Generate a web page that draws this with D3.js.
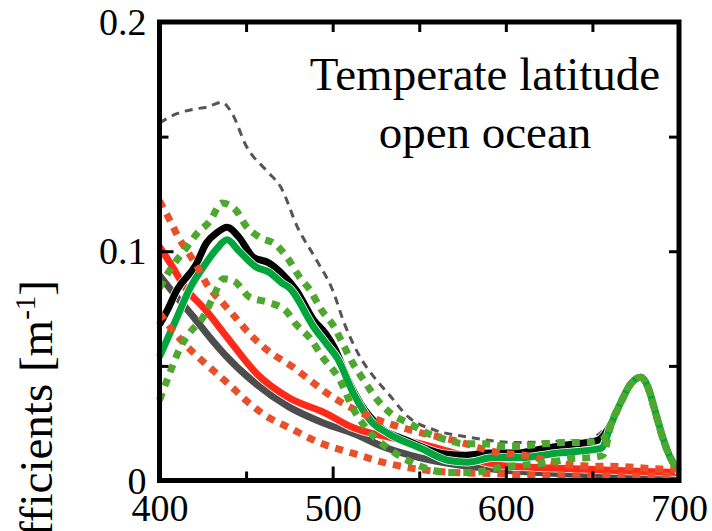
<!DOCTYPE html>
<html>
<head>
<meta charset="utf-8">
<script src="https://cdn.jsdelivr.net/npm/d3@7"></script>
<style>
  body { margin: 0; background: #fff; }
  svg { display: block; }
</style>
</head>
<body>
<script>
const width = 712;
const height = 531;
const margin = { top: 22, right: 33, bottom: 50.5, left: 159.5 };
const serif = '"Liberation Serif", "Times New Roman", Times, serif';

// wavelength [nm] and absorption [1/m] read per curve
const wlTotal = [400, 410, 420, 428, 436, 442, 450, 462, 470, 480, 490, 500, 507, 515, 524, 532, 544, 559, 578, 605, 630, 645, 655, 662, 668, 673, 678, 683, 688, 693, 700];
const aTotal  = [0.156, 0.160, 0.162, 0.163, 0.165, 0.160, 0.146, 0.135, 0.128, 0.110, 0.097, 0.083, 0.068, 0.055, 0.045, 0.038, 0.0275, 0.022, 0.019, 0.0166, 0.017, 0.0175, 0.021, 0.027, 0.036, 0.043, 0.046, 0.040, 0.027, 0.015, 0.004];

const wlBlack = [400, 405, 410, 421, 427, 433, 439, 446, 454, 463, 471, 479, 489, 496, 501, 509, 516, 528, 543, 563, 576, 590, 607, 615, 635, 653, 661, 667, 672, 678, 682, 686, 691, 695, 700];
const aBlack  = [0.068, 0.075, 0.083, 0.094, 0.1035, 0.108, 0.1105, 0.106, 0.0975, 0.095, 0.090, 0.083, 0.070, 0.064, 0.058, 0.0437, 0.0336, 0.023, 0.0175, 0.0118, 0.011, 0.012, 0.012, 0.013, 0.0155, 0.0175, 0.025, 0.035, 0.042, 0.045, 0.041, 0.031, 0.018, 0.010, 0.004];

const wlGreen = [400, 410, 417, 427, 433, 439, 446, 456, 463, 471, 475, 489, 496, 503, 512, 522, 532, 551, 567, 578, 593, 609, 628, 655, 661, 667, 672, 678, 682, 686, 691, 695, 700];
const aGreen  = [0.054, 0.071, 0.083, 0.095, 0.101, 0.105, 0.100, 0.093, 0.091, 0.086, 0.084, 0.067, 0.060, 0.053, 0.038, 0.026, 0.0205, 0.014, 0.0087, 0.008, 0.010, 0.010, 0.0118, 0.014, 0.025, 0.035, 0.042, 0.045, 0.041, 0.031, 0.018, 0.010, 0.004];

const wlRed = [400, 406, 415, 427, 439, 456, 475, 495, 512, 532, 551, 570, 597, 625, 650, 675, 700];
const aRed  = [0.102, 0.095, 0.084, 0.074, 0.0625, 0.0467, 0.036, 0.0297, 0.023, 0.019, 0.016, 0.012, 0.0066, 0.0055, 0.0048, 0.004, 0.0035];

const wlGrey = [400, 410, 420, 429, 437, 456, 475, 495, 512, 530, 550, 575, 600, 650, 700];
const aGrey  = [0.0895, 0.080, 0.071, 0.0625, 0.0555, 0.042, 0.032, 0.025, 0.0205, 0.0145, 0.010, 0.0065, 0.0045, 0.0025, 0.0015];

const wlRedHi = [400, 406, 411, 417, 423, 427, 437, 444, 452, 462, 477, 487, 495, 503, 522, 545, 570, 597, 611, 624, 641, 668, 691, 700];
const aRedHi  = [0.122, 0.1135, 0.106, 0.099, 0.0917, 0.086, 0.077, 0.071, 0.064, 0.057, 0.0495, 0.0437, 0.039, 0.035, 0.0277, 0.022, 0.0175, 0.012, 0.011, 0.0087, 0.0065, 0.006, 0.005, 0.005];

const wlRedLo = [400, 406, 414, 425, 431, 440, 452, 463, 475, 492, 512, 532, 547, 570, 593, 620, 660, 700];
const aRedLo  = [0.073, 0.067, 0.060, 0.052, 0.048, 0.042, 0.0336, 0.0275, 0.023, 0.0166, 0.0118, 0.0074, 0.0052, 0.0035, 0.003, 0.0022, 0.002, 0.002];

const wlGreenHi = [400, 407, 414, 422, 429, 436, 444, 450, 458, 467, 474, 481, 487, 493, 501, 505, 511, 518, 526, 534, 544, 555, 567, 576, 588, 599, 609, 622, 634, 645, 655, 661, 667, 672, 678, 682, 686, 691, 695, 700];
const aGreenHi  = [0.084, 0.093, 0.100, 0.108, 0.113, 0.121, 0.118, 0.111, 0.106, 0.103, 0.097, 0.0886, 0.083, 0.075, 0.0668, 0.061, 0.052, 0.0437, 0.035, 0.029, 0.025, 0.0205, 0.0175, 0.016, 0.016, 0.015, 0.015, 0.016, 0.0166, 0.0166, 0.0175, 0.025, 0.035, 0.042, 0.045, 0.0406, 0.0306, 0.0175, 0.010, 0.004];

const wlGreenLo = [400, 405, 412, 418, 425, 431, 437, 443, 452, 463, 473, 479, 487, 494, 504, 512, 522, 534, 547, 567, 580, 597, 626, 638, 649, 656, 661, 667, 672, 678, 682, 686, 691, 695, 700];
const aGreenLo  = [0.035, 0.045, 0.058, 0.065, 0.071, 0.080, 0.088, 0.087, 0.080, 0.0777, 0.074, 0.068, 0.062, 0.054, 0.044, 0.031, 0.0205, 0.013, 0.0074, 0.0035, 0.0035, 0.0057, 0.008, 0.0096, 0.010, 0.011, 0.025, 0.035, 0.042, 0.045, 0.0406, 0.0306, 0.0175, 0.010, 0.004];

const xMajor = [400, 500, 600, 700];
const xMinor = [450, 550, 650];
const yMajor = [0, 0.1, 0.2];
const yMinor = [0.05, 0.15];

const titleLines = ['Temperate latitude', 'open ocean'];

// drawing order and look of each curve
const curves = [
  { wl: wlTotal,   a: aTotal,   color: '#555555', w: 3,   dash: '8,6' },
  { wl: wlGrey,    a: aGrey,    color: '#4d4d4d', w: 7,   halo: true },
  { wl: wlRed,     a: aRed,     color: '#ff2a1a', w: 7,   halo: true },
  { wl: wlBlack,   a: aBlack,   color: '#000000', w: 7,   halo: true },
  { wl: wlGreen,   a: aGreen,   color: '#00a63c', w: 7,   halo: true },
  { wl: wlRedHi,   a: aRedHi,   color: '#e8502a', w: 7,   dash: '8,7' },
  { wl: wlRedLo,   a: aRedLo,   color: '#e8502a', w: 7,   dash: '8,7' },
  { wl: wlGreenLo, a: aGreenLo, color: '#4ea72e', w: 7,   dash: '8,7' },
  { wl: wlGreenHi, a: aGreenHi, color: '#4ea72e', w: 7,   dash: '8,7' }
];

const svg = d3.select('body').append('svg')
    .attr('width', width)
    .attr('height', height);

const x = d3.scaleLinear()
    .domain([400, 700])
    .range([margin.left, width - margin.right]);

const y = d3.scaleLinear()
    .domain([0, 0.2])
    .range([height - margin.bottom, margin.top]);

const line = d3.line()
    .x(d => x(d[0]))
    .y(d => y(d[1]))
    .curve(d3.curveMonotoneX);

const plot = svg.append('g');

curves.forEach(c => {
  const pts = d3.zip(c.wl, c.a);
  if (c.halo) {
    plot.append('path')
      .attr('d', line(pts))
      .attr('fill', 'none')
      .attr('stroke', '#fff')
      .attr('stroke-width', c.w + 1.5)
      .attr('stroke-linejoin', 'round');
  }
  plot.append('path')
    .attr('d', line(pts))
    .attr('fill', 'none')
    .attr('stroke', c.color)
    .attr('stroke-width', c.w)
    .attr('stroke-linejoin', 'round')
    .attr('stroke-dasharray', c.dash || null);
});

// axes: ticks point inwards on all four sides
const fmt = d => d === 0 ? '0' : d3.format('.1f')(d);

function styleAxis(g, dy) {
  g.select('.domain').remove();
  g.selectAll('.tick line').attr('stroke', '#000').attr('stroke-width', 3);
  g.selectAll('.tick text')
    .style('font-family', serif)
    .style('font-size', '38px')
    .attr('fill', '#000');
  if (dy) g.selectAll('.tick text').attr('dy', dy);
}

const yBottom = y(0), yTop = y(0.2), xLeft = x(400), xRight = x(700);

svg.append('g').attr('transform', `translate(0,${yBottom})`)
  .call(d3.axisBottom(x).tickValues(xMajor).tickSize(-14).tickPadding(14).tickFormat(d3.format('d')))
  .call(styleAxis, '0.71em');
svg.append('g').attr('transform', `translate(0,${yBottom})`)
  .call(d3.axisBottom(x).tickValues(xMinor).tickSize(-9).tickFormat(''))
  .call(styleAxis);
svg.append('g').attr('transform', `translate(0,${yTop})`)
  .call(d3.axisTop(x).tickValues(xMajor.concat(xMinor)).tickSize(-10).tickFormat(''))
  .call(styleAxis);

svg.append('g').attr('transform', `translate(${xLeft},0)`)
  .call(d3.axisLeft(y).tickValues(yMajor).tickSize(-14).tickPadding(13).tickFormat(fmt))
  .call(styleAxis, '0.33em');
svg.append('g').attr('transform', `translate(${xLeft},0)`)
  .call(d3.axisLeft(y).tickValues(yMinor).tickSize(-9).tickFormat(''))
  .call(styleAxis);
svg.append('g').attr('transform', `translate(${xRight},0)`)
  .call(d3.axisRight(y).tickValues(yMajor.concat(yMinor)).tickSize(-10).tickFormat(''))
  .call(styleAxis);

// frame
svg.append('rect')
    .attr('x', xLeft)
    .attr('y', yTop)
    .attr('width', xRight - xLeft)
    .attr('height', yBottom - yTop)
    .attr('fill', 'none')
    .attr('stroke', '#000')
    .attr('stroke-width', 5);

// label inside the panel, two centred lines
svg.append('g').selectAll('text')
  .data(titleLines)
  .join('text')
    .attr('x', 485)
    .attr('y', (d, i) => 90 + i * 58)
    .attr('text-anchor', 'middle')
    .style('font-family', serif)
    .style('font-size', '47px')
    .text(d => d);

// y axis title, runs off the bottom edge
const ylab = svg.append('text')
    .attr('transform', 'translate(52,280) rotate(-90)')
    .attr('text-anchor', 'end')
    .style('font-family', serif)
    .style('font-size', '47px');
ylab.append('tspan').text('Absorption coefficients [m');
ylab.append('tspan').style('font-size', '29px').attr('dy', -17).text('-1');
ylab.append('tspan').attr('dy', 17).text(']');
</script>
</body>
</html>
